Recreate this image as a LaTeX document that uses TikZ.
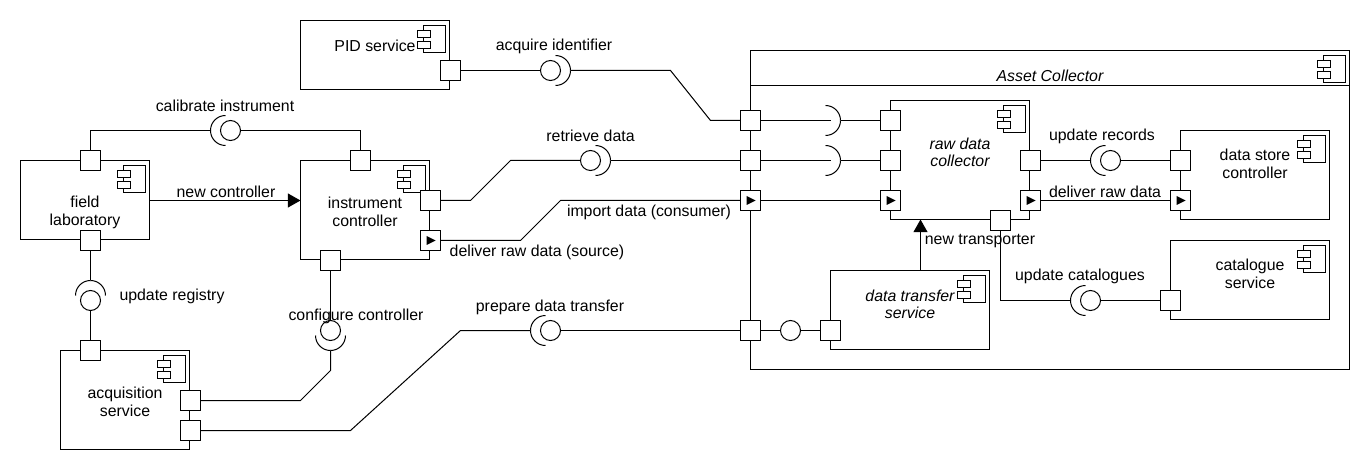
\documentclass[tikz,border=0pt]{standalone}
\usepackage{fontspec}
\setmainfont{Liberation Sans}
\usetikzlibrary{arrows.meta}
\newcommand{\compicon}[1]{%
  \draw[wire] ([shift={(-26,5)}]#1.north east) rectangle ([shift={(-4,32)}]#1.north east);
  \draw[wire,fill=white] ([shift={(-32,10)}]#1.north east) rectangle ([shift={(-19,17)}]#1.north east);
  \draw[wire,fill=white] ([shift={(-32,21)}]#1.north east) rectangle ([shift={(-19,28)}]#1.north east);
}
\newcommand{\sockarc}[2]{%
  \draw[wire] (#1) arc[start angle=#2,delta angle=90,radius=11.25pt];
  \draw[wire] (#1) arc[start angle=#2,delta angle=-90,radius=11.25pt];
}
\newcommand{\porttri}[1]{%
  \fill ([shift={(-4,-4.5)}]#1.center) -- ([shift={(5,0)}]#1.center) -- ([shift={(-4,4.5)}]#1.center) -- cycle;
}
\tikzset{
  wire/.style={line width=.75pt,draw=black},
  comp/.style 2 args={draw=black,line width=.75pt,fill=white,inner sep=0pt,outer sep=0pt,
    minimum width=#1*.75pt,minimum height=#2*.75pt},
  lab/.style={align=center,inner sep=0pt,font=\fontsize{11.9}{13.5}\selectfont},
  ilab/.style={lab,font=\fontsize{11.9}{12.75}\selectfont\itshape},
  port/.style={draw=black,line width=.75pt,fill=white,inner sep=0pt,outer sep=0pt,minimum size=15pt},
  ball/.style={circle,draw=black,line width=.75pt,fill=white,inner sep=0pt,outer sep=0pt,minimum size=15pt},
  flow/.style={wire,-{Triangle[length=9.5pt,width=10.5pt]}},
}
\begin{document}
\begin{tikzpicture}[x=.75pt,y=-.75pt]
\useasboundingbox (0,0) rectangle (1370,470);
% outer component
\node[comp={599}{319}] (ac) at (1050,210) {};
\coordinate (hdr) at (1050,85.5);
\draw[wire] (ac.west |- hdr) -- (ac.east |- hdr);
\node[ilab] (actitle) at (1050,75.5) {Asset Collector};
% components
\node[comp={129}{79},label={[lab,yshift=-9pt]center:{field\\laboratory}}] (fl) at (85,200) {};
\node[comp={129}{99},label={[lab,yshift=-1.5pt]center:{instrument\\controller}}] (ic) at (365,210) {};
\node[comp={129}{99},label={[lab,yshift=-1.5pt]center:{acquisition\\service}}] (aq) at (125,400) {};
\node[comp={149}{69},label={[lab,yshift=6.75pt]center:{PID service}}] (pid) at (375,55) {};
\node[comp={139}{119},label={[ilab,yshift=6pt]center:{raw data\\collector}}] (rdc) at (960,160) {};
\node[comp={159}{79},label={[ilab,yshift=4.5pt]center:{data transfer\\service}}] (dts) at (910,310) {};
\node[comp={149}{89},label={[lab,yshift=8.25pt]center:{data store\\controller}}] (dsc) at (1255,175) {};
\node[comp={159}{79},label={[lab,yshift=4.5pt]center:{catalogue\\service}}] (cat) at (1250,280) {};
\foreach \c in {ac,fl,ic,aq,pid,rdc,dts,dsc,cat} {\compicon{\c}}
% ports
\node[port] (flT) at (90.5,160.5) {};
\node[port] (flB) at (90.5,240.5) {};
\node[port] (icT) at (360.5,160.5) {};
\node[port] (icR) at (430.5,200.5) {};
\node[port] (icS) at (430.5,240.5) {};
\node[port] (icB) at (330.5,260.5) {};
\node[port] (aqT) at (90.5,350.5) {};
\node[port] (aqA) at (190.5,400.5) {};
\node[port] (aqB) at (190.5,430.5) {};
\node[port] (pidP) at (450.5,70.5) {};
\node[port] (acA) at (750.5,120.5) {};
\node[port] (acB) at (750.5,160.5) {};
\node[port] (acC) at (750.5,200.5) {};
\node[port] (acD) at (750.5,330.5) {};
\node[port] (rdA) at (890.5,120.5) {};
\node[port] (rdB) at (890.5,160.5) {};
\node[port] (rdC) at (890.5,200.5) {};
\node[port] (rdR) at (1030.5,160.5) {};
\node[port] (rdS) at (1030.5,200.5) {};
\node[port] (rdL) at (1000.5,220.5) {};
\node[port] (dtP) at (830.5,330.5) {};
\node[port] (dsA) at (1180.5,160.5) {};
\node[port] (dsB) at (1180.5,200.5) {};
\node[port] (caP) at (1170.5,300.5) {};
\foreach \p in {icS,acC,rdC,rdS,dsB} {\porttri{\p}}
% balls
\node[ball] (calB) at (230.5,130.5) {};
\node[ball] (regB) at (90.5,300.5) {};
\node[ball] (cfgB) at (330.5,330.5) {};
\node[ball] (acqB) at (550.5,70.5) {};
\node[ball] (retB) at (590.5,160.5) {};
\node[ball] (preB) at (550.5,330.5) {};
\node[ball] (recB) at (1110.5,160.5) {};
\node[ball] (catB) at (1090.5,300.5) {};
\node[ball] (inB) at (790.5,330.5) {};
% socket apexes
\coordinate (calS) at (210.5,130.5);
\coordinate (regS) at (90.5,280.5);
\coordinate (cfgS) at (330.5,350.5);
\coordinate (acqS) at (570.5,70.5);
\coordinate (retS) at (610.5,160.5);
\coordinate (preS) at (530.5,330.5);
\coordinate (recS) at (1090.5,160.5);
\coordinate (catS) at (1070.5,300.5);
\coordinate (upA) at (840.5,120.5);
\coordinate (upB) at (840.5,160.5);
\coordinate (upAend) at (830.5,120.5);
\coordinate (upBend) at (830.5,160.5);
\sockarc{calS}{180}
\sockarc{regS}{90}
\sockarc{cfgS}{270}
\sockarc{acqS}{0}
\sockarc{retS}{0}
\sockarc{preS}{180}
\sockarc{recS}{180}
\sockarc{catS}{180}
\sockarc{upA}{0}
\sockarc{upB}{0}
% bends
\coordinate (k1) at (670.5,70.5);
\coordinate (k2) at (710.5,120.5);
\coordinate (k3) at (470.5,200.5);
\coordinate (k4) at (510.5,160.5);
\coordinate (k5) at (520.5,240.5);
\coordinate (k6) at (560.5,200.5);
\coordinate (k7) at (330.5,370.5);
\coordinate (k8) at (300.5,400.5);
\coordinate (k9) at (350.5,430.5);
\coordinate (k10) at (460.5,330.5);
% connectors
\draw[wire] (flT.north) |- (calS);
\draw[wire] (calB.east) -| (icT.north);
\draw[wire] (flB.south) -- (regS);
\draw[wire] (regB.south) -- (aqT.north);
\draw[wire] (icB.south) -- (cfgB.north);
\draw[wire] (cfgS) -- (k7) -- (k8) -- (aqA.east);
\draw[wire] (aqB.east) -- (k9) -- (k10) -- (preS);
\draw[wire] (preB.east) -- (acD.west);
\draw[wire] (pidP.east) -- (acqB.west);
\draw[wire] (acqS) -- (k1) -- (k2) -- (acA.west);
\draw[wire] (icR.east) -- (k3) -- (k4) -- (retB.west);
\draw[wire] (retS) -- (acB.west);
\draw[wire] (icS.east) -- (k5) -- (k6) -- (acC.west);
\draw[wire] (acA.east) -- (upAend);
\draw[wire] (upA) -- (rdA.west);
\draw[wire] (acB.east) -- (upBend);
\draw[wire] (upB) -- (rdB.west);
\draw[wire] (acC.east) -- (rdC.west);
\draw[wire] (acD.east) -- (inB.west);
\draw[wire] (inB.east) -- (dtP.west);
\draw[wire] (rdR.east) -- (recS);
\draw[wire] (recB.east) -- (dsA.west);
\draw[wire] (rdS.east) -- (dsB.west);
\draw[wire] (rdL.south) |- (catS);
\draw[wire] (catB.east) -- (caP.west);
\draw[flow] (fl.east |- 0,200.5) -- (ic.west |- 0,200.5);
\coordinate (ntS) at (920.5,270.5);
\coordinate (ntE) at (920.5,219.5);
\draw[flow] (ntS) -- (ntE);
% labels
\node[lab] (t1) at (225,106) {calibrate instrument};
\node[lab] (t2) at (226,192) {new controller};
\node[lab] (t3) at (172,296) {update registry};
\node[lab] (t4) at (356,316) {configure controller};
\node[lab] (t5) at (554,46) {acquire identifier};
\node[lab] (t6) at (590.5,136) {retrieve data};
\node[lab] (t7) at (649,212) {import data (consumer)};
\node[lab] (t8) at (537,252) {deliver raw data (source)};
\node[lab] (t9) at (550,307) {prepare data transfer};
\node[lab] (t10) at (1102,136) {update records};
\node[lab] (t11) at (1105,192) {deliver raw data};
\node[lab] (t12) at (980,241) {new transporter};
\node[lab] (t13) at (1080,276) {update catalogues};
\end{tikzpicture}
\end{document}
